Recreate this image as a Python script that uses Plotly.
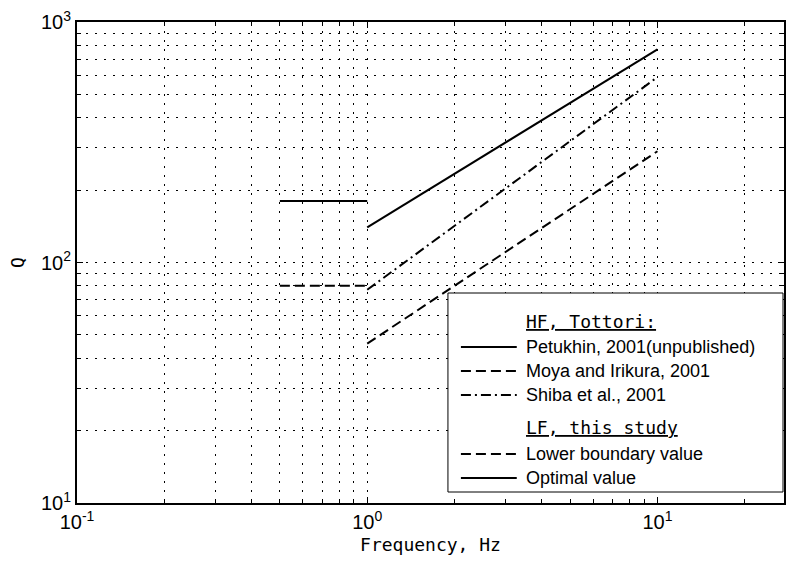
import plotly.graph_objects as go

# ---------------- data ----------------
freq_lf = [0.5, 1.0]
q_lf_optimal = [180, 180]
q_lf_lower = [80, 80]

freq_hf = [1.0, 10.0]
q_petukhin = [140, 770]
q_moya = [46, 290]
q_shiba = [77, 590]

x_tickvals = [0.1, 1, 10]
x_ticktext = ["10<sup>-1</sup>", "10<sup>0</sup>", "10<sup>1</sup>"]
y_tickvals = [10, 100, 1000]
y_ticktext = ["10<sup>1</sup>", "10<sup>2</sup>", "10<sup>3</sup>"]

hf_title = "HF, Tottori:"
lf_title = "LF, this study"
name_petukhin = "Petukhin, 2001(unpublished)"
name_moya = "Moya and Irikura, 2001"
name_shiba = "Shiba et al., 2001"
name_lower = "Lower boundary value"
name_optimal = "Optimal value"

# ---------------- layout geometry ----------------
W, H = 786, 562
L, R, T, B = 77, 0, 22, 59
PW, PH = W - L - R, H - T - B


def px(x):
    return (x - L) / PW


def py(y):
    return (H - B - y) / PH


DASH = "10px,5px"
DASHDOT = "10px,4px,2px,4px"
LW = 2

fig = go.Figure()
fig.add_trace(go.Scatter(x=freq_hf, y=q_petukhin, mode="lines", name=name_petukhin,
                         line=dict(color="black", width=LW, dash="solid"), showlegend=False))
fig.add_trace(go.Scatter(x=freq_hf, y=q_moya, mode="lines", name=name_moya,
                         line=dict(color="black", width=LW, dash=DASH), showlegend=False))
fig.add_trace(go.Scatter(x=freq_hf, y=q_shiba, mode="lines", name=name_shiba,
                         line=dict(color="black", width=LW, dash=DASHDOT), showlegend=False))
fig.add_trace(go.Scatter(x=freq_lf, y=q_lf_lower, mode="lines", name=name_lower,
                         line=dict(color="black", width=LW, dash=DASH), showlegend=False))
fig.add_trace(go.Scatter(x=freq_lf, y=q_lf_optimal, mode="lines", name=name_optimal,
                         line=dict(color="black", width=LW, dash="solid"), showlegend=False))

minor_x = [m * 10 ** e for e in (-1, 0, 1) for m in range(2, 10)]
minor_y = [m * 10 ** e for e in (1, 2) for m in range(2, 10)]

GRID = dict(gridcolor="black", gridwidth=1, griddash="2px,7px")
TICKFONT = dict(family="Liberation Sans, Arial, sans-serif", size=20, color="black")
MONO = "DejaVu Sans Mono, monospace"

fig.update_xaxes(
    type="log", range=[-1, 1.436],
    tickmode="array", tickvals=x_tickvals, ticktext=x_ticktext,
    ticks="inside", ticklen=6, tickcolor="black", tickwidth=1,
    showline=True, linecolor="black", linewidth=2, mirror="allticks",
    showgrid=True, **GRID,
    minor=dict(tickmode="array", tickvals=minor_x, ticks="inside", ticklen=4,
               tickcolor="black", showgrid=True, **GRID),
    tickfont=TICKFONT, zeroline=False,
    title=dict(text="Frequency, Hz", font=dict(family=MONO, size=18, color="black"), standoff=6),
)
fig.update_yaxes(
    type="log", range=[1, 3],
    tickmode="array", tickvals=y_tickvals, ticktext=y_ticktext,
    ticks="inside", ticklen=6, tickcolor="black", tickwidth=1,
    showline=True, linecolor="black", linewidth=2, mirror="allticks",
    showgrid=True, **GRID,
    minor=dict(tickmode="array", tickvals=minor_y, ticks="inside", ticklen=4,
               tickcolor="black", showgrid=True, **GRID),
    tickfont=TICKFONT, zeroline=False,
    title=dict(text="Q", font=dict(family=MONO, size=18, color="black"), standoff=12),
)

# ---------------- hand-drawn legend box ----------------
shapes = [dict(type="rect", xref="paper", yref="paper", layer="above",
               x0=px(449), x1=px(785), y0=py(492), y1=py(293),
               fillcolor="white", line=dict(color="black", width=1))]
annotations = []

rows = [
    ("title", hf_title, None, 321),
    ("item", name_petukhin, "solid", 347),
    ("item", name_moya, DASH, 371),
    ("item", name_shiba, DASHDOT, 395),
    ("title", lf_title, None, 428),
    ("item", name_lower, DASH, 454),
    ("item", name_optimal, "solid", 478),
]
for kind, text, dash, yy in rows:
    if kind == "title":
        annotations.append(dict(xref="paper", yref="paper", x=px(525), y=py(yy),
                                xanchor="left", yanchor="middle", showarrow=False, text=text,
                                font=dict(family=MONO, size=18, color="black", lineposition="under")))
    else:
        shapes.append(dict(type="line", xref="paper", yref="paper", layer="above",
                           x0=px(462), x1=px(518), y0=py(yy), y1=py(yy),
                           line=dict(color="black", width=LW, dash=dash)))
        annotations.append(dict(xref="paper", yref="paper", x=px(525), y=py(yy),
                                xanchor="left", yanchor="middle", showarrow=False, text=text,
                                font=dict(family="Liberation Sans, Arial, sans-serif", size=18,
                                          color="black")))

fig.update_layout(
    width=W, height=H,
    margin=dict(l=L, r=R, t=T, b=B, pad=0),
    paper_bgcolor="white", plot_bgcolor="white",
    showlegend=False,
    shapes=shapes, annotations=annotations,
)

fig.write_html("out.html")
